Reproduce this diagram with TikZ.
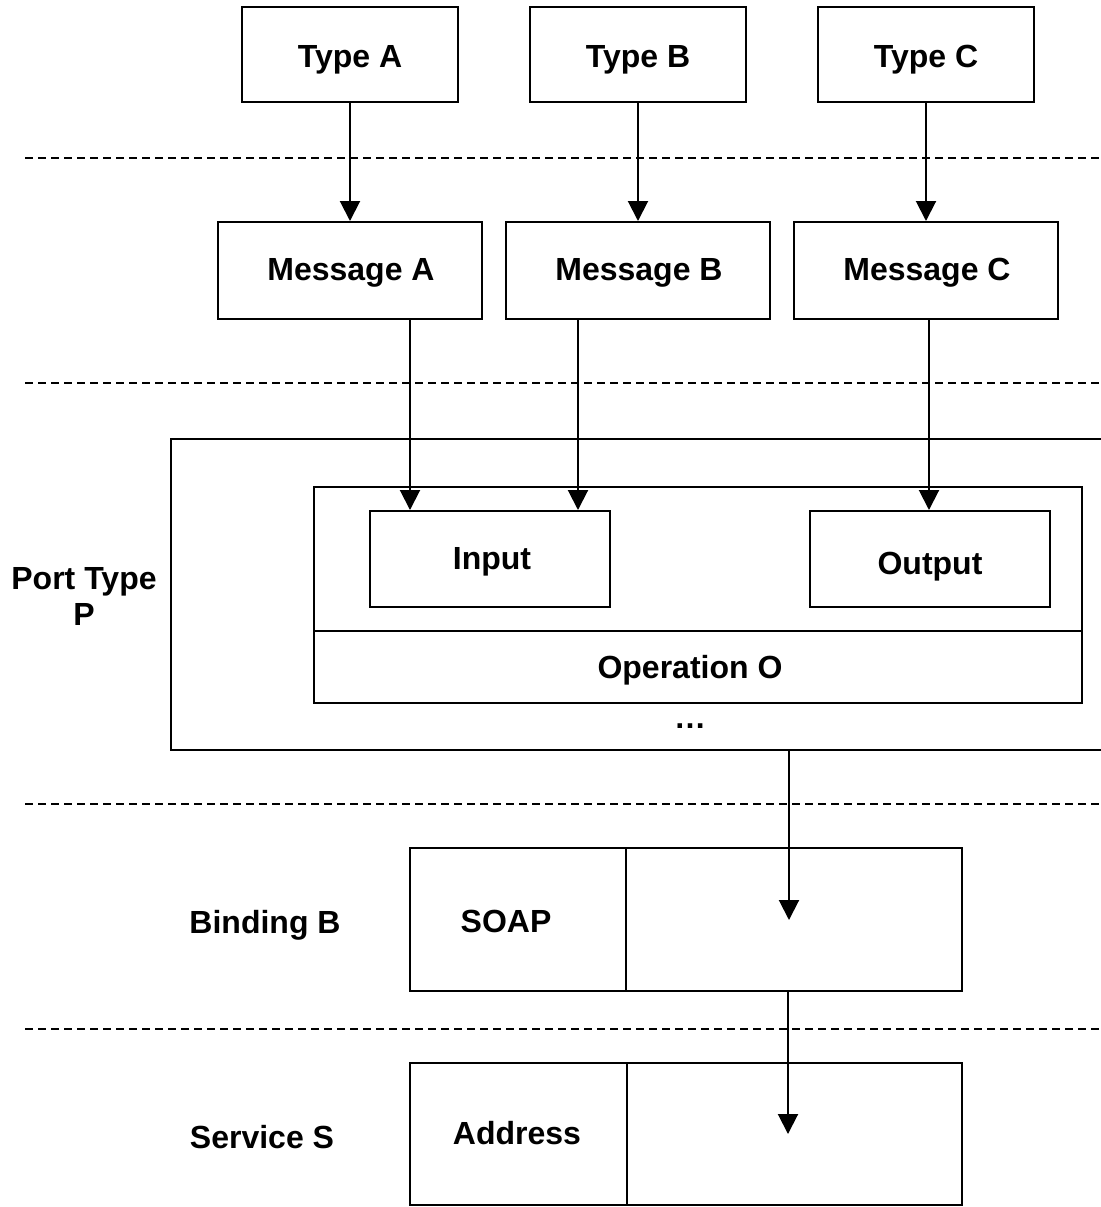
\documentclass[tikz,border=0pt]{standalone}
\usepackage{fontspec}
\setmainfont{Liberation Sans}
\usetikzlibrary{arrows.meta}
\begin{document}
\begin{tikzpicture}[x=0.5pt,y=-0.5pt,
  box/.style={draw,line width=1pt,rectangle,inner sep=0pt},
  lbl/.style={anchor=base,inner sep=0pt,font=\fontsize{16}{18}\selectfont\bfseries},
  arr/.style={line width=1pt,-{Triangle[width=10pt,length=10pt]}},
  sep/.style={line width=1pt,dash pattern=on 4pt off 2.5pt}]
\useasboundingbox (0,0) rectangle (1101,1207);

% layer separators
\foreach \yy in {158,383,804,1029}
  \draw[sep] (25,\yy) -- (1101,\yy);

% types
\node[box,minimum width=108pt,minimum height=47.5pt] (tA) at (350,54.5) {};
\node[box,minimum width=108pt,minimum height=47.5pt] (tB) at (638,54.5) {};
\node[box,minimum width=108pt,minimum height=47.5pt] (tC) at (926,54.5) {};
\node[lbl] at (350,67) {Type A};
\node[lbl] at (638,67) {Type B};
\node[lbl] at (926,67) {Type C};

% messages
\node[box,minimum width=132pt,minimum height=48.5pt] (mA) at (350,270.5) {};
\node[box,minimum width=132pt,minimum height=48.5pt] (mB) at (638,270.5) {};
\node[box,minimum width=132pt,minimum height=48.5pt] (mC) at (926,270.5) {};
\node[lbl] at (351,280) {Message A};
\node[lbl] at (639,280) {Message B};
\node[lbl] at (927,280) {Message C};

\draw[arr] (tA.south) -- (mA.north);
\draw[arr] (tB.south) -- (mB.north);
\draw[arr] (tC.south) -- (mC.north);

% port type with its operation
\node[box,minimum width=474.5pt,minimum height=155.5pt] (port) at (645.5,594.5) {};
\node[box,minimum width=384pt,minimum height=108pt] (op) at (698,595) {};
\draw[line width=1pt] (op.west |- 0,631) -- (op.east |- 0,631);
\node[box,minimum width=120pt,minimum height=48pt] (inp) at (490,559) {};
\node[box,minimum width=120pt,minimum height=48pt] (outp) at (930,559) {};
\node[lbl] at (492,569) {Input};
\node[lbl] at (930,574) {Output};
\node[lbl] at (690,678) {Operation O};
\node[lbl] at (690,728) {\textbf{\dots}};
\node[lbl,align=center] at (84,625) {Port Type\\P};

\draw[arr] ([xshift=30pt]mA.south) -- ([xshift=30pt]mA.south |- inp.north);
\draw[arr] ([xshift=-30pt]mB.south) -- ([xshift=-30pt]mB.south |- inp.north);
\draw[arr] ([xshift=1.5pt]mC.south) -- ([xshift=1.5pt]mC.south |- outp.north);

% binding
\node[box,minimum width=276pt,minimum height=71.5pt] (bind) at (686,919.5) {};
\draw[line width=1pt] (bind.north -| 626,0) -- (bind.south -| 626,0);
\node[lbl] at (506,932) {SOAP};
\node[lbl] at (265,933) {Binding B};
\coordinate (bt) at (789,920);
\draw[arr] (port.south -| bt) -- (bt);

% service
\node[box,minimum width=276pt,minimum height=71pt] (serv) at (686,1134) {};
\draw[line width=1pt] (serv.north -| 627,0) -- (serv.south -| 627,0);
\node[lbl] at (517,1144) {Address};
\node[lbl] at (262,1148) {Service S};
\coordinate (st) at (788,1134);
\draw[arr] (bind.south -| st) -- (st);
\end{tikzpicture}
\end{document}
